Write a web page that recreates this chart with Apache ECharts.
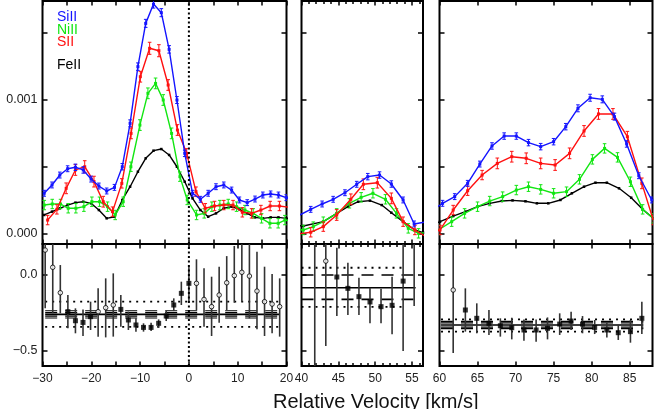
<!DOCTYPE html>
<html><head><meta charset="utf-8">
<script src="https://cdn.jsdelivr.net/npm/echarts@6/dist/echarts.min.js"></script>
<style>html,body{margin:0;padding:0;background:#fff}#c{width:654px;height:409px}</style>
</head><body><div id="c"></div><script>
// ---------------- data ----------------
// panel x ranges (km/s)
const panelRanges = [[-30, 20], [40, 56.5], [60, 88]];
const xMajorTicks = [[-30,-25,-20,-15,-10,-5,0,5,10,15,20],[40,45,50,55],[60,65,70,75,80,85]];
const xMinorTicks = [[],[41,42,43,44,46,47,48,49,51,52,53,54,56],[]];
const xTickLabels = [[-30,-20,-10,0,10,20],[40,45,50,55],[60,65,70,75,80,85]];
const topYTicks = [0, 0.5, 1, 1.5];      // units of 1e-3
const topYLabels = [0, 1];
const botYTicks = [0, -0.5];
const botYLabels = [0, -0.5];

// SiII (blue)
const siVel = [-29.65,-28.05,-26.45,-24.85,-23.25,-21.65,-20.05,-18.45,-16.85,-15.25,-13.65,-12.05,-10.45,-8.85,-7.25,-5.65,-4.05,-2.45,-0.85,0.75,2.35,3.95,5.55,7.15,8.75,10.35,11.95,13.55,15.15,16.75,18.35,19.95,
  39.7,41.25,42.8,44.3,45.9,47.5,49.0,50.6,52.2,53.8,55.3,56.9,
  60.4,62.0,63.7,65.3,66.9,68.5,70.1,71.7,73.3,75.0,76.6,78.2,79.8,81.4,83.0,84.6,86.2,87.9];
const siVal = [0.304,0.366,0.440,0.487,0.498,0.478,0.410,0.358,0.321,0.348,0.502,0.826,1.249,1.572,1.716,1.652,1.378,1.0,0.602,0.304,0.259,0.304,0.353,0.366,0.328,0.254,0.234,0.261,0.291,0.299,0.291,0.271,
  0.14,0.184,0.224,0.259,0.308,0.371,0.428,0.440,0.373,0.254,0.075,0.09,
  0.229,0.279,0.378,0.522,0.657,0.731,0.731,0.682,0.652,0.689,0.801,0.938,1.017,1.005,0.876,0.672,0.435,0.254];
const siErr = [0.022,0.022,0.022,0.022,0.024,0.024,0.022,0.022,0.022,0.022,0.024,0.026,0.028,0.03,0.03,0.03,0.028,0.026,0.024,0.022,0.022,0.022,0.022,0.022,0.022,0.022,0.022,0.022,0.022,0.022,0.022,0.022,
  0.022,0.022,0.022,0.022,0.022,0.022,0.024,0.024,0.024,0.022,0.022,0.022,
  0.022,0.022,0.022,0.022,0.024,0.024,0.024,0.024,0.024,0.024,0.024,0.026,0.026,0.026,0.026,0.024,0.022,0.022];

// NiII (green)
const niVel = [-29.64,-28.0,-26.3,-24.73,-23.16,-21.52,-19.88,-18.31,-16.67,-15.1,-13.46,-11.89,-10.04,-8.4,-6.83,-5.26,-3.55,-1.84,-0.34,1.57,3.14,4.71,6.35,8.06,9.77,11.48,13.18,14.89,16.6,18.3,19.67,
  40.25,41.6,42.96,44.78,46.5,48.1,49.7,51.4,52.9,54.5,55.9,
  59.85,61.6,63.3,65.0,66.6,68.3,70.1,71.7,73.3,75.0,76.7,78.4,80.1,81.7,83.4,85.1,86.7,88.1];
const niVal = [0.216,0.224,0.224,0.192,0.192,0.204,0.241,0.241,0.204,0.142,0.241,0.502,0.813,1.05,1.124,1.0,0.751,0.428,0.254,0.142,0.154,0.204,0.216,0.224,0.204,0.179,0.154,0.117,0.080,0.080,0.104,
  0.03,0.055,0.092,0.154,0.229,0.274,0.304,0.259,0.154,0.042,0.005,
  0.03,0.092,0.154,0.204,0.246,0.279,0.328,0.353,0.333,0.304,0.316,0.408,0.557,0.639,0.572,0.390,0.184,0.117];
const niErr = [0.035,0.035,0.035,0.035,0.035,0.035,0.035,0.035,0.035,0.035,0.035,0.035,0.04,0.04,0.04,0.04,0.04,0.035,0.035,0.035,0.035,0.035,0.035,0.035,0.035,0.035,0.035,0.035,0.035,0.035,0.035,
  0.035,0.035,0.035,0.035,0.035,0.035,0.035,0.035,0.035,0.035,0.035,
  0.035,0.035,0.035,0.035,0.035,0.035,0.035,0.035,0.035,0.035,0.035,0.035,0.035,0.035,0.035,0.035,0.035,0.035];

// SII (red)
const sVel = [-28.95,-27.05,-25.15,-23.25,-21.35,-19.45,-17.55,-15.65,-13.75,-11.85,-9.95,-8.05,-6.15,-4.25,-2.35,-0.45,1.45,3.35,5.25,7.15,9.05,10.95,12.85,14.75,16.65,18.55,20.45,
  39.4,41.25,42.96,44.78,46.7,48.4,50.3,52.2,53.8,55.4,56.9,
  60.07,61.8,63.7,65.6,67.6,69.5,71.4,73.3,75.2,77.1,79.0,80.9,82.8,84.7,86.6,88.1];
const sVal = [0.104,0.184,0.341,0.478,0.502,0.391,0.241,0.167,0.378,0.751,1.174,1.386,1.368,1.112,0.776,0.602,0.316,0.192,0.209,0.216,0.216,0.162,0.154,0.179,0.209,0.209,0.2,
  0.0,0.013,0.055,0.142,0.259,0.371,0.383,0.266,0.092,0.03,-0.02,
  0.03,0.179,0.323,0.440,0.527,0.577,0.565,0.527,0.515,0.602,0.769,0.896,0.896,0.726,0.378,0.104];
const sErr = [0.035,0.035,0.04,0.04,0.045,0.04,0.04,0.035,0.035,0.04,0.04,0.045,0.045,0.04,0.04,0.035,0.035,0.035,0.035,0.035,0.035,0.035,0.035,0.035,0.035,0.035,0.035,
  0.035,0.035,0.035,0.04,0.04,0.04,0.04,0.04,0.035,0.035,0.035,
  0.035,0.035,0.035,0.035,0.04,0.04,0.04,0.04,0.04,0.04,0.04,0.04,0.04,0.04,0.04,0.035];

// FeII (black)
const feVel = [-29.65,-28.05,-26.45,-24.85,-23.25,-21.65,-20.05,-18.45,-16.85,-15.25,-13.65,-12.05,-10.45,-8.85,-7.25,-5.65,-4.05,-2.45,-0.85,0.75,2.35,3.95,5.55,7.15,8.75,10.35,11.95,13.55,15.15,16.75,18.35,19.95,
  40.25,42.96,44.78,46.3,47.7,49.3,50.9,52.2,53.8,55.4,56.5,
  60.07,61.8,63.4,65.0,66.6,68.2,69.6,71.3,72.8,74.3,75.9,77.4,79.0,80.5,82.0,83.6,85.2,86.7,88.1];
const feVal = [0.142,0.167,0.192,0.216,0.234,0.241,0.229,0.179,0.117,0.129,0.254,0.353,0.465,0.565,0.622,0.634,0.590,0.502,0.390,0.266,0.179,0.129,0.154,0.192,0.204,0.184,0.154,0.124,0.117,0.124,0.124,0.117,
  0.06,0.092,0.154,0.204,0.241,0.249,0.216,0.159,0.092,0.03,0.01,
  0.092,0.134,0.167,0.204,0.229,0.246,0.251,0.244,0.229,0.229,0.254,0.304,0.353,0.383,0.383,0.341,0.271,0.184,0.117];

// lower panels: ratio points
const rVel = [-29.45,-27.9,-26.35,-24.8,-23.25,-21.7,-20.15,-18.6,-17.05,-15.5,-13.95,-12.4,-10.85,-9.3,-7.75,-6.2,-4.65,-3.1,-1.55,0,1.55,3.1,4.65,6.2,7.75,9.3,10.85,12.4,13.95,15.5,17.05,18.6,
  41.8,43.3,44.8,46.3,47.8,49.3,50.8,52.3,53.8,55.3,
  61.8,63.4,64.9,66.5,68.0,69.5,71.1,72.7,74.2,75.8,77.3,78.8,80.4,82.0,83.5,85.1,86.6];
const rVal = [0.165,0.051,-0.117,-0.242,-0.302,-0.313,-0.275,-0.242,-0.216,-0.198,-0.227,-0.297,-0.330,-0.346,-0.346,-0.319,-0.271,-0.198,-0.121,-0.055,-0.055,-0.161,-0.209,-0.132,-0.051,-0.004,0.018,-0.007,-0.106,-0.176,-0.192,-0.209,
  -0.75,0.092,-0.013,-0.088,-0.143,-0.178,-0.209,-0.200,-0.040,0.35,
  -0.099,-0.231,-0.286,-0.319,-0.335,-0.348,-0.363,-0.363,-0.352,-0.324,-0.304,-0.324,-0.346,-0.363,-0.381,-0.374,-0.286];
const rLo = [-0.220,-0.253,-0.253,-0.352,-0.385,-0.403,-0.363,-0.407,-0.412,-0.407,-0.341,-0.363,-0.374,-0.374,-0.370,-0.348,-0.304,-0.238,-0.198,-0.176,-0.231,-0.341,-0.403,-0.315,-0.231,-0.183,-0.176,-0.286,-0.359,-0.403,-0.385,-0.407,
  -0.7,-0.469,-0.271,-0.264,-0.264,-0.319,-0.319,-0.392,-0.502,-0.205,
  -0.515,-0.374,-0.385,-0.396,-0.407,-0.425,-0.434,-0.440,-0.425,-0.396,-0.363,-0.385,-0.390,-0.412,-0.429,-0.447,-0.390];
const rHi = [0.3,0.3,0.066,-0.132,-0.220,-0.227,-0.176,-0.088,-0.022,0.011,-0.132,-0.242,-0.286,-0.319,-0.315,-0.293,-0.238,-0.154,-0.044,0.055,0.104,0.044,-0.011,0.055,0.125,0.192,0.3,0.3,0.154,0.055,0.007,-0.022,
  0.3,0.3,0.180,0.081,-0.018,-0.084,-0.090,-0.011,0.3,0.5,
  0.3,-0.088,-0.187,-0.231,-0.286,-0.282,-0.293,-0.293,-0.280,-0.253,-0.242,-0.271,-0.297,-0.315,-0.330,-0.297,-0.176];
const rOpen = [1,1,1,0,0,0,0,1,1,1,0,0,0,0,0,0,0,0,0,0,1,1,1,1,1,1,1,1,1,1,1,1,
  0,1,0,0,0,0,0,0,0,0,
  1,0,0,0,0,0,0,0,0,0,0,0,0,0,0,0,0];

// lower panels: reference levels
const meanLevel = [-0.26, -0.084, -0.33];
const meanSpan = [[-29.45, 18.6], [40, 55.5], [60.2, 86.8]];
const dotLevels = [[-0.176, -0.343], [0.048, -0.211], [-0.293, -0.374]];
const dotSpan = [[-29.45, 18.6], [40, 54.2], [60.2, 86.8]];
const dashLevels = [[-0.236, -0.249, -0.271, -0.284], [0.0, -0.161], [-0.306, -0.316, -0.344, -0.354]];
const dashSpan = [[-29.45, 18.6], [40, 55.5], [60.2, 86.8]];

// --------------- layout ---------------
const panelLeft = [42.5, 301.5, 439.5];
const panelWidth = [244, 121.5, 213];
const topBox = {top: 1, height: 243};
const botBox = {top: 244, height: 122};
const topYRange = [-0.0746, 1.739];
const botYRange = [-0.601, 0.205];

const FONT = 'Liberation Sans, Arial, Helvetica, sans-serif';
const minusFmt = v => (v < 0 ? '\u2212' + Math.abs(v) : String(v));

const grids = [], xAxes = [], yAxes = [], series = [];
const gx = [], gy = []; // main axis index per grid

function addX(g, pos, ticks, labels, len) {
  const p = g % 3;
  xAxes.push({
    type: 'value', gridIndex: g, position: pos, min: panelRanges[p][0], max: panelRanges[p][1],
    axisLine: {show: false, onZero: false}, splitLine: {show: false},
    axisTick: {show: ticks.length > 0, inside: true, length: len, customValues: ticks, lineStyle: {color: '#000', width: 1.5}},
    axisLabel: {show: labels.length > 0, customValues: labels, formatter: minusFmt, margin: 7,
      fontFamily: FONT, fontSize: 12, color: '#222', hideOverlap: false}
  });
  return xAxes.length - 1;
}
function addY(g, pos, ticks, labels, range, fmt) {
  yAxes.push({
    type: 'value', gridIndex: g, position: pos, min: range[0], max: range[1],
    axisLine: {show: false, onZero: false}, splitLine: {show: false},
    axisTick: {show: true, inside: true, length: 5, customValues: ticks, lineStyle: {color: '#000', width: 1.5}},
    axisLabel: {show: labels.length > 0, customValues: labels, formatter: fmt, margin: 5,
      fontFamily: FONT, fontSize: 12.5, color: '#222'}
  });
  return yAxes.length - 1;
}

for (let g = 0; g < 6; g++) {
  const p = g % 3, isTop = g < 3;
  const box = isTop ? topBox : botBox;
  grids.push({left: panelLeft[p], width: panelWidth[p], top: box.top, height: box.height,
    show: true, borderColor: '#000', borderWidth: 2, backgroundColor: 'transparent'});
  gx[g] = addX(g, 'bottom', xMajorTicks[p], isTop ? [] : xTickLabels[p], 4.5);
  addX(g, 'top', xMajorTicks[p], [], 4.5);
  if (xMinorTicks[p].length) { addX(g, 'bottom', xMinorTicks[p], [], 3); addX(g, 'top', xMinorTicks[p], [], 3); }
  const range = isTop ? topYRange : botYRange;
  const fmt = isTop ? (v => (v / 1000).toFixed(3)) : (v => (v === 0 ? '0.0' : '\u2212' + Math.abs(v).toFixed(1)));
  gy[g] = addY(g, 'left', isTop ? topYTicks : botYTicks, (p === 0) ? (isTop ? topYLabels : botYLabels) : [], range, fmt);
  addY(g, 'right', isTop ? topYTicks : botYTicks, [], range, fmt);
}

function errBars(xi, yi, vel, lo, hi, color, cap, width, z) {
  const data = vel.map((v, i) => [v, lo[i], hi[i]]);
  return {type: 'custom', xAxisIndex: xi, yAxisIndex: yi, clip: true, silent: true, z: z,
    data, encode: {x: 0, y: [1, 2]},
    renderItem: (params, api) => {
      const x = api.value(0);
      const a = api.coord([x, api.value(1)]), b = api.coord([x, api.value(2)]);
      const st = {stroke: color, lineWidth: width};
      const ch = [{type: 'line', shape: {x1: a[0], y1: a[1], x2: b[0], y2: b[1]}, style: st}];
      if (cap > 0) {
        ch.push({type: 'line', shape: {x1: a[0] - cap, y1: a[1], x2: a[0] + cap, y2: a[1]}, style: st});
        ch.push({type: 'line', shape: {x1: b[0] - cap, y1: b[1], x2: b[0] + cap, y2: b[1]}, style: st});
      }
      return {type: 'group', children: ch};
    }};
}

const ions = [
  {vel: feVel, val: feVal, err: null, color: '#000000'},
  {vel: niVel, val: niVal, err: niErr, color: '#12e612'},
  {vel: sVel, val: sVal, err: sErr, color: '#ff1010'},
  {vel: siVel, val: siVal, err: siErr, color: '#1414ff'}
];

for (let p = 0; p < 3; p++) {
  ions.forEach((ion, k) => {
    if (ion.err) {
      series.push(errBars(gx[p], gy[p], ion.vel,
        ion.val.map((v, i) => v - ion.err[i]), ion.val.map((v, i) => v + ion.err[i]), ion.color, 1.8, 1, 2 + k));
    }
    series.push({type: 'line', xAxisIndex: gx[p], yAxisIndex: gy[p], clip: true, silent: true, animation: false,
      data: ion.vel.map((v, i) => [v, ion.val[i]]), z: 2 + k,
      symbol: 'rect', symbolSize: ion.err ? 3 : 2.5, showSymbol: true,
      lineStyle: {color: ion.color, width: 1.4}, itemStyle: {color: ion.color}});
  });
  // lower panel
  const g = 3 + p;
  const refLine = (lvl, span, type, w) => ({type: 'line', xAxisIndex: gx[g], yAxisIndex: gy[g], clip: true, silent: true,
    symbol: 'none', data: [[span[0], lvl], [span[1], lvl]], z: 1,
    lineStyle: {color: '#000', width: w, type: type, cap: 'butt'}});
  series.push(refLine(meanLevel[p], meanSpan[p], 'solid', 1.6));
  dotLevels[p].forEach(l => series.push(refLine(l, dotSpan[p], [2, 5], 1.8)));
  dashLevels[p].forEach(l => series.push(refLine(l, dashSpan[p], [12, 8], p === 1 ? 1.6 : 1.2)));
  series.push(errBars(gx[g], gy[g], rVel, rLo, rHi, '#333', 0, 1.6, 3));
  series.push({type: 'scatter', xAxisIndex: gx[g], yAxisIndex: gy[g], clip: true, silent: true, z: 4,
    symbol: 'rect', symbolSize: 5, itemStyle: {color: '#000'},
    data: rVel.map((v, i) => [v, rVal[i]]).filter((d, i) => !rOpen[i])});
  series.push({type: 'scatter', xAxisIndex: gx[g], yAxisIndex: gy[g], clip: true, silent: true, z: 4,
    symbol: 'circle', symbolSize: 4.5, itemStyle: {color: '#fff', borderColor: '#000', borderWidth: 1},
    data: rVel.map((v, i) => [v, rVal[i]]).filter((d, i) => rOpen[i])});
}
// vertical dotted zero line (left panels)
[0, 3].forEach(g => {
  const r = g === 0 ? topYRange : botYRange;
  series.push({type: 'line', xAxisIndex: gx[g], yAxisIndex: gy[g], silent: true, symbol: 'none', z: 5,
    data: [[0, r[0]], [0, r[1]]], lineStyle: {color: '#000', width: 2, type: [2, 2.5], cap: 'butt'}});
});

const legendNames = ['SiII', 'NiII', 'SII', 'FeII'];
const legendColors = ['#1414ff', '#12e612', '#ff1010', '#000000'];
const legendY = [18, 31, 43, 66];

const chart = echarts.init(document.getElementById('c'));
chart.setOption({
  animation: false,
  backgroundColor: '#fff',
  grid: grids, xAxis: xAxes, yAxis: yAxes, series,
  graphic: legendNames.map((n, i) => ({type: 'text', left: 57, top: legendY[i] - 8, z: 10,
      style: {text: n, fill: legendColors[i], font: '14px ' + FONT}}))
    .concat([{type: 'text', left: 273, top: 392, z: 10,
      style: {text: 'Relative Velocity [km/s]', fill: '#111', font: '20px ' + FONT}}])
});
</script></body></html>
